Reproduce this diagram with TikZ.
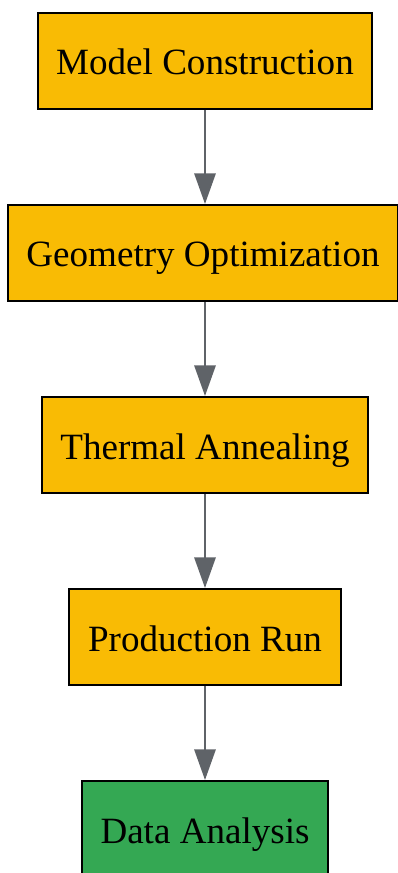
\documentclass[tikz,border=0pt]{standalone}
\usepackage{fontspec}
\setmainfont{Liberation Serif}
\usepackage{tikz}
\usetikzlibrary{arrows.meta}
\definecolor{stepyellow}{HTML}{F9BB04}
\definecolor{stepgreen}{HTML}{34A853}
\definecolor{flowgray}{HTML}{5F6368}
\tikzstyle{block} = [rectangle, draw=black, line width=1.5pt, fill=stepyellow,
                 inner xsep=14pt, minimum height=72pt,
                 text height=25.5pt, text depth=4.5pt,
                 font=\fontsize{27.8}{33}\selectfont]
\tikzstyle{flow} = [draw=flowgray, line width=1.5pt,
                 -{Triangle[length=23pt,width=16pt]}]

\begin{document}
\begin{tikzpicture}[x=0.75pt,y=-0.75pt]

\useasboundingbox (0,0) rectangle (398,873);

\node [block] at (205,61) (model) {Model Construction};
\node [block] at (203,253) (geom) {Geometry Optimization};
\node [block] at (205,445) (anneal) {Thermal Annealing};
\node [block] at (205,637) (prod) {Production Run};
\node [block, fill=stepgreen] at (205,829) (data) {Data Analysis};

\path [flow] (model.south) -- (model.south |- geom.north);
\path [flow] (model.south |- geom.south) -- (model.south |- anneal.north);
\path [flow] (anneal.south) -- (prod.north);
\path [flow] (prod.south) -- (data.north);

\end{tikzpicture}
\end{document}
